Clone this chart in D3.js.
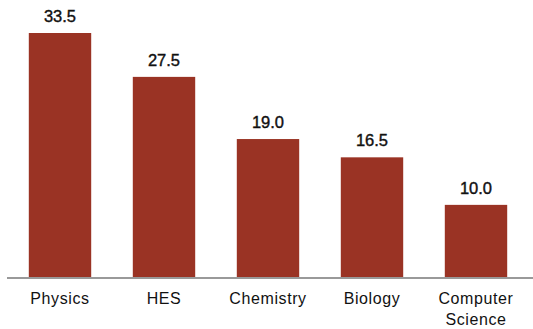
<!DOCTYPE html>
<html>
<head>
<meta charset="utf-8">
<script src="https://cdn.jsdelivr.net/npm/d3@7"></script>
<style>
  body { margin: 0; background: #fff; }
  .chart { width: 533px; height: 329px; }
  text { font-family: "Liberation Sans", Arial, sans-serif; fill: #111; }
</style>
</head>
<body>
<div class="chart"></div>
<script>
// chart data
let categories = ["Physics", "HES", "Chemistry", "Biology", "Computer Science"];
let values = [33.5, 27.5, 19.0, 16.5, 10.0];
let yMax = 33.5;

let margin = { top: 33, right: 5, bottom: 51, left: 8 };
let width = 533 - margin.left - margin.right;
let height = 329 - margin.top - margin.bottom;

let svg = d3.select(".chart").append("svg")
    .attr("width", 533)
    .attr("height", 329);

let plot = svg.append("g")
    .attr("transform", `translate(${margin.left},${margin.top})`);

let xScale = d3.scaleBand()
    .domain(categories)
    .range([0, 520])
    .paddingInner(0.4)
    .paddingOuter(0.2);

let yScale = d3.scaleLinear()
    .domain([0, yMax])
    .range([height, 0]);

let data = categories.map((c, i) => ({ cat: c, val: values[i] }));

// bars
plot.selectAll(".bar")
    .data(data)
    .enter()
    .append("rect")
    .attr("class", "bar")
    .attr("x", d => xScale(d.cat))
    .attr("y", d => yScale(d.val))
    .attr("width", xScale.bandwidth())
    .attr("height", d => height - yScale(d.val))
    .attr("fill", "#9a3324");

// value labels
plot.selectAll(".val")
    .data(data)
    .enter()
    .append("text")
    .attr("class", "val")
    .attr("x", d => xScale(d.cat) + xScale.bandwidth() / 2)
    .attr("y", d => yScale(d.val) - 11)
    .attr("text-anchor", "middle")
    .style("font-size", "16.5px")
    .style("stroke", "#111")
    .style("stroke-width", "0.4px")
    .text(d => d3.format(".1f")(d.val));

// baseline axis
let xAxis = plot.append("g")
    .attr("transform", `translate(0,${height})`)
    .call(d3.axisBottom(xScale).tickSize(0).tickPadding(0));

xAxis.select(".domain")
    .attr("d", `M-1,0H${width + 10}`)
    .attr("stroke", "#999")
    .attr("stroke-width", 2);

// category labels, wrapped at spaces
xAxis.selectAll(".tick text").remove();
xAxis.selectAll(".tick").each(function(d) {
    let t = d3.select(this).append("text")
        .attr("text-anchor", "middle")
        .attr("fill", "#111")
        .style("font-size", "16px")
        .style("letter-spacing", "0.6px");
    d.split(" ").forEach((w, i) => {
        t.append("tspan")
            .attr("x", 0)
            .attr("y", 26 + i * 21)
            .text(w);
    });
});
</script>
</body>
</html>
